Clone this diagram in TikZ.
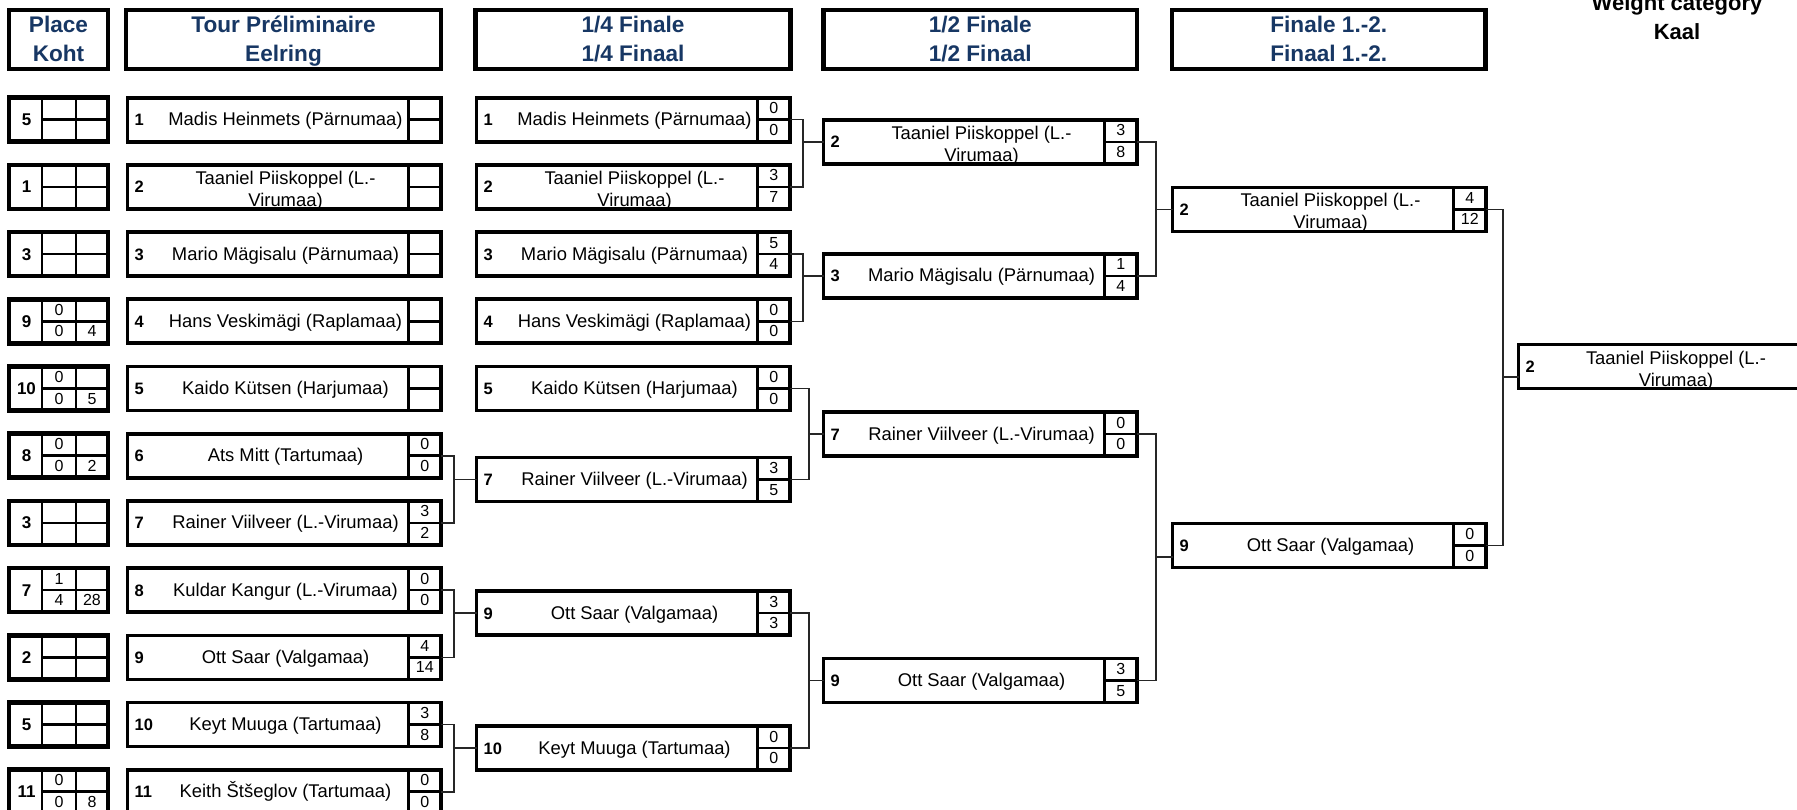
\documentclass[tikz,border=0pt]{standalone}
\usepackage{fontspec}
\setmainfont{Liberation Sans}
\usetikzlibrary{calc}
\definecolor{hdrblue}{RGB}{23,55,100}
\tikzset{
  boxline/.style={draw=black, line width=3.7pt},
  placeline/.style={draw=black, line width=4.6pt},
  hdrline/.style={draw=black, line width=4.5pt},
  conn/.style={draw=black!85, line width=1.5pt},
  cellrule/.style={draw=black, line width=2.6pt},
  frame/.style={rectangle, inner sep=0pt, outer sep=0pt, anchor=north west},
  nametxt/.style={inner sep=0pt, anchor=base, font=\fontsize{18.4}{21}\selectfont},
  numtxt/.style={inner sep=0pt, anchor=base west, font=\bfseries\fontsize{16.5}{20}\selectfont},
  scoretxt/.style={inner sep=0pt, anchor=base, font=\fontsize{16}{19}\selectfont},
  placenum/.style={inner sep=0pt, anchor=base, font=\bfseries\fontsize{17}{20}\selectfont},
  hdrtxt/.style={inner sep=0pt, anchor=base, text=hdrblue, font=\bfseries\fontsize{22.6}{28}\selectfont},
  wtxt/.style={inner sep=0pt, anchor=base, font=\bfseries\fontsize{22}{28}\selectfont},
}
% #1 id, #2 left x, #3 centre y, #4 number, #5 name line 1, #6 name line 2, #7 top score, #8 bottom score
\newcommand{\matchbox}[8]{%
  \node[frame, minimum width=313.5pt, minimum height=44pt] (#1) at (#2,{#3-22}) {};%
  \node[numtxt] (#1n) at ({#2+7},{#3+6}) {#4};%
  \ifx\relax#6\relax
    \node[nametxt] (#1t) at ({#2+158},{#3+6}) {#5};%
  \else
    \node[nametxt] (#1t) at ({#2+158},{#3-2.5}) {#5};%
    \node[nametxt] (#1u) at ({#2+158},{#3+19.5}) {#6};%
  \fi
  \ifx\relax#7\relax\else
    \node[scoretxt] (#1a) at ({#2+297.25},{#3-6}) {#7};%
    \node[scoretxt] (#1b) at ({#2+297.25},{#3+15.5}) {#8};%
  \fi
  \node[frame, minimum width=32.5pt, minimum height=44pt] (#1s) at ({#2+281},{#3-22}) {};%
  \draw[boxline] (#1.north west) rectangle (#1.south east);%
  \draw[boxline] (#1s.north west) -- (#1s.south west);%
  \draw[cellrule] (#1s.west) -- (#1s.east);%
}
% #1 id, #2 centre y, #3 place, #4 top middle, #5 bottom middle, #6 bottom right
\newcommand{\placebox}[6]{%
  \node[frame, minimum width=99pt, minimum height=44pt] (#1) at (9,{#2-22}) {};%
  \node[placenum] (#1n) at (26.5,{#2+6}) {#3};%
  \ifx\relax#4\relax\else
    \node[scoretxt] (#1a) at (59,{#2-6}) {#4};%
    \node[scoretxt] (#1b) at (59,{#2+15.5}) {#5};%
    \node[scoretxt] (#1c) at (92,{#2+15.5}) {#6};%
  \fi
  \draw[placeline] (#1.north west) rectangle (#1.south east);%
  \draw[cellrule] ([xshift=33pt]#1.north west) -- ([xshift=33pt]#1.south west);%
  \draw[cellrule] ([xshift=67pt]#1.north west) -- ([xshift=67pt]#1.south west);%
  \draw[cellrule] ([xshift=33pt]#1.west) -- (#1.east);%
}
% #1 id, #2 left, #3 width, #4 line 1, #5 line 2
\newcommand{\hdrbox}[5]{%
  \node[frame, minimum width=#3pt, minimum height=59pt] (#1) at (#2,10) {};%
  \draw[hdrline] (#1.north west) rectangle (#1.south east);%
  \node[hdrtxt] (#1a) at ({#2+#3/2},33) {#4};%
  \node[hdrtxt] (#1b) at ({#2+#3/2},62) {#5};%
}
\begin{document}
\begin{tikzpicture}[x=1pt, y=-1pt, line join=miter]
\useasboundingbox (0,0) rectangle (1797,810);
\clip (0,0) rectangle (1797,810);
\fill[white] (0,0) rectangle (1797,810);

% headers
\hdrbox{hplace}{9}{99}{Place}{Koht}
\hdrbox{htour}{126}{315}{Tour Préliminaire}{Eelring}
\hdrbox{hqf}{475.5}{315}{1/4 Finale}{1/4 Finaal}
\hdrbox{hsf}{823.5}{313.5}{1/2 Finale}{1/2 Finaal}
\hdrbox{hfin}{1172}{313.5}{Finale 1.-2.}{Finaal 1.-2.}
\node[wtxt] (wcat) at (1677,11) {Weight category};
\node[wtxt] (kaal) at (1677,40) {Kaal};

% place boxes
\placebox{pl1}{119.75}{5}{}{}{}
\placebox{pl2}{186.95}{1}{}{}{}
\placebox{pl3}{254.15}{3}{}{}{}
\placebox{pl4}{321.35}{9}{0}{0}{4}
\placebox{pl5}{388.55}{10}{0}{0}{5}
\placebox{pl6}{455.75}{8}{0}{0}{2}
\placebox{pl7}{522.95}{3}{}{}{}
\placebox{pl8}{590.15}{7}{1}{4}{28}
\placebox{pl9}{657.35}{2}{}{}{}
\placebox{pl10}{724.55}{5}{}{}{}
\placebox{pl11}{791.75}{11}{0}{0}{8}

% preliminary round
\matchbox{p1}{127.5}{119.75}{1}{Madis Heinmets (Pärnumaa)}{}{}{}
\matchbox{p2}{127.5}{186.95}{2}{Taaniel Piiskoppel (L.-}{Virumaa)}{}{}
\matchbox{p3}{127.5}{254.15}{3}{Mario Mägisalu (Pärnumaa)}{}{}{}
\matchbox{p4}{127.5}{321.35}{4}{Hans Veskimägi (Raplamaa)}{}{}{}
\matchbox{p5}{127.5}{388.55}{5}{Kaido Kütsen (Harjumaa)}{}{}{}
\matchbox{p6}{127.5}{455.75}{6}{Ats Mitt (Tartumaa)}{}{0}{0}
\matchbox{p7}{127.5}{522.95}{7}{Rainer Viilveer (L.-Virumaa)}{}{3}{2}
\matchbox{p8}{127.5}{590.15}{8}{Kuldar Kangur (L.-Virumaa)}{}{0}{0}
\matchbox{p9}{127.5}{657.35}{9}{Ott Saar (Valgamaa)}{}{4}{14}
\matchbox{p10}{127.5}{724.55}{10}{Keyt Muuga (Tartumaa)}{}{3}{8}
\matchbox{p11}{127.5}{791.75}{11}{Keith Štšeglov (Tartumaa)}{}{0}{0}

% quarter finals
\matchbox{q1}{476.5}{119.75}{1}{Madis Heinmets (Pärnumaa)}{}{0}{0}
\matchbox{q2}{476.5}{186.95}{2}{Taaniel Piiskoppel (L.-}{Virumaa)}{3}{7}
\matchbox{q3}{476.5}{254.15}{3}{Mario Mägisalu (Pärnumaa)}{}{5}{4}
\matchbox{q4}{476.5}{321.35}{4}{Hans Veskimägi (Raplamaa)}{}{0}{0}
\matchbox{q5}{476.5}{388.55}{5}{Kaido Kütsen (Harjumaa)}{}{0}{0}
\matchbox{q7}{476.5}{479.5}{7}{Rainer Viilveer (L.-Virumaa)}{}{3}{5}
\matchbox{q9}{476.5}{613}{9}{Ott Saar (Valgamaa)}{}{3}{3}
\matchbox{q10}{476.5}{748}{10}{Keyt Muuga (Tartumaa)}{}{0}{0}

% semi finals
\matchbox{s1}{823.5}{142}{2}{Taaniel Piiskoppel (L.-}{Virumaa)}{3}{8}
\matchbox{s2}{823.5}{276}{3}{Mario Mägisalu (Pärnumaa)}{}{1}{4}
\matchbox{s3}{823.5}{434}{7}{Rainer Viilveer (L.-Virumaa)}{}{0}{0}
\matchbox{s4}{823.5}{680.5}{9}{Ott Saar (Valgamaa)}{}{3}{5}

% finals
\matchbox{f1}{1172.5}{209.5}{2}{Taaniel Piiskoppel (L.-}{Virumaa)}{4}{12}
\matchbox{f2}{1172.5}{545.5}{9}{Ott Saar (Valgamaa)}{}{0}{0}

% winner
\node[frame, minimum width=300pt, minimum height=44pt] (w) at (1518.5,344.5) {};
\node[numtxt] (wn) at (1525.5,372.5) {2};
\node[nametxt] (wt) at (1676,364) {Taaniel Piiskoppel (L.-};
\node[nametxt] (wu) at (1676,386) {Virumaa)};
\draw[boxline] (w.north west) rectangle (w.south east);

% connectors: preliminary -> quarter finals
\coordinate (pj67) at (454,479.5);
\coordinate (pj89) at (454,613);
\coordinate (pj1011) at (454,748);
\draw[conn] (p6.east) -| (pj67) |- (p7.east);
\draw[conn] (pj67) -- (q7.west);
\draw[conn] (p8.east) -| (pj89) |- (p9.east);
\draw[conn] (pj89) -- (q9.west);
\draw[conn] (p10.east) -| (pj1011) |- (p11.east);
\draw[conn] (pj1011) -- (q10.west);

% quarter finals -> semi finals
\coordinate (qj12) at (803,142);
\coordinate (qj34) at (803,276);
\coordinate (qj57) at (809,434);
\coordinate (qj910) at (809,680.5);
\draw[conn] (q1.east) -| (qj12) |- (q2.east);
\draw[conn] (qj12) -- (s1.west);
\draw[conn] (q3.east) -| (qj34) |- (q4.east);
\draw[conn] (qj34) -- (s2.west);
\draw[conn] (q5.east) -| (qj57) |- (q7.east);
\draw[conn] (qj57) -- (s3.west);
\draw[conn] (q9.east) -| (qj910) |- (q10.east);
\draw[conn] (qj910) -- (s4.west);

% semi finals -> finals
\coordinate (sj12) at (1156,209.5);
\coordinate (sj34) at (1156,557);
\draw[conn] (s1.east) -| (sj12) |- (s2.east);
\draw[conn] (sj12) -- (f1.west);
\draw[conn] (s3.east) -| (sj34) |- (s4.east);
\draw[conn] (sj34) -- (sj34 -| f2.west);

% finals -> winner
\coordinate (fj) at (1503,377);
\draw[conn] (f1.east) -| (fj) |- (f2.east);
\draw[conn] (fj) -- (fj -| w.west);
\end{tikzpicture}
\end{document}
